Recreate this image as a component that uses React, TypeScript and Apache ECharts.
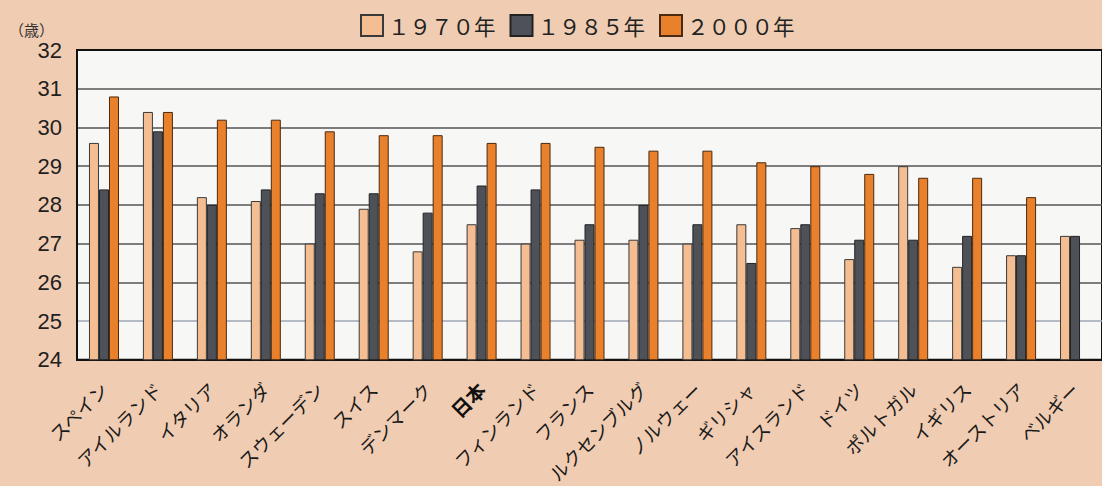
import React, { useEffect, useRef } from "react";
import * as echarts from "echarts";

const categories = [
  "スペイン", "アイルランド", "イタリア", "オランダ", "スウェーデン", "スイス", "デンマーク",
  "日本", "フィンランド", "フランス", "ルクセンブルグ", "ノルウェー", "ギリシャ", "アイスランド",
  "ドイツ", "ポルトガル", "イギリス", "オーストリア", "ベルギー",
];
const seriesNames = ["１９７０年", "１９８５年", "２０００年"];
const v1970 = [29.6, 30.4, 28.2, 28.1, 27.0, 27.9, 26.8, 27.5, 27.0, 27.1, 27.1, 27.0, 27.5, 27.4, 26.6, 29.0, 26.4, 26.7, 27.2];
const v1985 = [28.4, 29.9, 28.0, 28.4, 28.3, 28.3, 27.8, 28.5, 28.4, 27.5, 28.0, 27.5, 26.5, 27.5, 27.1, 27.1, 27.2, 26.7, 27.2];
const v2000 = [30.8, 30.4, 30.2, 30.2, 29.9, 29.8, 29.8, 29.6, 29.6, 29.5, 29.4, 29.4, 29.1, 29.0, 28.8, 28.7, 28.7, 28.2, null];
const yMin = 24;
const yMax = 32;
const unitLabel = "（歳）";

const JP = "'Noto Sans CJK JP', 'Noto Sans', sans-serif";

export default function App() {
  const ref = useRef<HTMLDivElement>(null);
  useEffect(() => {
    document.body.style.margin = "0";
    const chart = echarts.init(ref.current!, null, { renderer: "svg" });
    const barBase = { type: "bar" as const, barWidth: 10, barGap: "0%" };
    chart.setOption({
      animation: false,
      backgroundColor: "#F0CDB2",
      legend: {
        top: 9,
        left: 355,
        itemWidth: 22,
        itemHeight: 21,
        itemGap: 14,
        icon: "rect",
        textStyle: { fontSize: 21.5, color: "#222", fontFamily: JP },
        data: seriesNames,
      },
      graphic: [
        {
          type: "text",
          left: 9,
          top: 22,
          style: { text: unitLabel, fontSize: 15, fill: "#333", fontFamily: JP },
        },
      ],
      grid: {
        left: 77,
        top: 50,
        width: 1034,
        bottom: 122,
        show: true,
        backgroundColor: "#F7F7F5",
        borderColor: "#111",
        borderWidth: 2,
      },
      xAxis: {
        type: "category",
        data: categories,
        axisTick: { show: false },
        axisLine: { lineStyle: { color: "#111", width: 2 } },
        axisLabel: {
          interval: 0,
          rotate: 45,
          margin: 26,
          fontSize: 18.5,
          color: "#1a1a1a",
          fontFamily: JP,
          formatter: (v: string) => (v === "日本" ? `{b|${v}}` : v),
          rich: { b: { fontSize: 19.5, fontWeight: "bold", color: "#111", fontFamily: JP } },
        },
      },
      yAxis: {
        type: "value",
        min: yMin,
        max: yMax,
        interval: 1,
        axisLine: { show: true, lineStyle: { color: "#111", width: 2 } },
        axisTick: { show: false },
        axisLabel: {
          fontSize: 22,
          color: "#1f1f1f",
          margin: 15,
          fontFamily: "'Liberation Sans', Arial, sans-serif",
        },
        splitLine: {
          lineStyle: {
            color: ["#555", "#9ea7b3", "#555", "#555", "#555", "#555", "#555", "#555", "#111"],
            width: 1.5,
          },
        },
      },
      series: [
        {
          ...barBase,
          name: seriesNames[0],
          data: v1970,
          itemStyle: { color: "#F4BE92", borderColor: "#3a3a3a", borderWidth: 1 },
        },
        {
          ...barBase,
          name: seriesNames[1],
          data: v1985,
          itemStyle: { color: "#4E5258", borderColor: "#222", borderWidth: 1 },
        },
        {
          ...barBase,
          name: seriesNames[2],
          data: v2000,
          itemStyle: { color: "#E8802C", borderColor: "#4a2a10", borderWidth: 1 },
        },
      ],
    });
    return () => chart.dispose();
  }, []);
  return <div ref={ref} style={{ width: 1102, height: 486 }} />;
}
